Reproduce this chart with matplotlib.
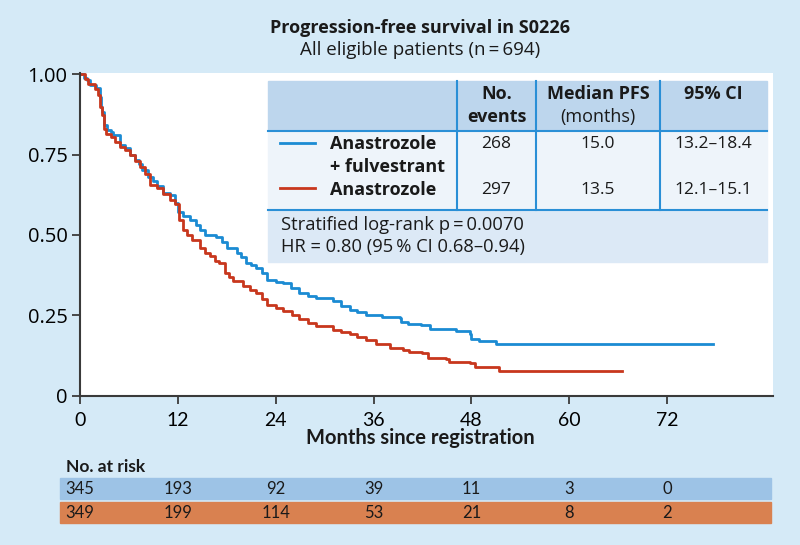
import matplotlib
matplotlib.use('Agg')
import matplotlib.pyplot as plt
from matplotlib.patches import Rectangle
from matplotlib.lines import Line2D
from matplotlib.transforms import blended_transform_factory

# Kaplan-Meier curves (months, survival)
combo_t = [0, 0.5, 0.8, 1.2, 2.0, 2.4, 2.6, 2.7, 2.9, 3.3, 3.8, 4.1, 4.9, 5.5, 6.1, 6.7, 7.2, 7.6,
           8.4, 8.9, 9.4, 10.2, 11.0, 11.6, 12.0, 12.6, 13.5, 14.2, 14.7, 15.3, 16.7, 17.4, 18.0,
           19.2, 19.8, 20.4, 21.0, 21.6, 22.3, 22.9, 24.1, 24.9, 25.9, 26.9, 28.0, 29.0, 31.0,
           32.0, 33.1, 34.0, 35.1, 37.1, 39.2, 39.4, 40.2, 41.8, 42.9, 46.1, 47.8, 48.0, 49.0,
           51.0, 77.6]
combo_s = [1.0, 0.99, 0.982, 0.967, 0.957, 0.931, 0.90, 0.884, 0.843, 0.828, 0.82, 0.812, 0.781,
           0.771, 0.750, 0.734, 0.72, 0.703, 0.682, 0.668, 0.651, 0.630, 0.624, 0.60, 0.573, 0.56,
           0.547, 0.53, 0.516, 0.50, 0.495, 0.478, 0.459, 0.443, 0.43, 0.412, 0.405, 0.397, 0.38,
           0.361, 0.353, 0.351, 0.335, 0.319, 0.31, 0.304, 0.293, 0.28, 0.267, 0.26, 0.252, 0.245,
           0.241, 0.228, 0.224, 0.221, 0.208, 0.200, 0.190, 0.176, 0.169, 0.159, 0.159]

anas_t = [0, 0.6, 1.0, 1.8, 2.2, 2.5, 2.7, 2.9, 3.2, 3.8, 4.3, 4.9, 5.5, 6.1, 6.7, 7.4, 8.0, 8.6,
          9.4, 10.2, 11.0, 11.6, 12.2, 12.6, 13.1, 13.7, 14.7, 15.3, 15.9, 16.5, 17.1, 17.8, 18.3,
          18.8, 20.0, 20.8, 21.6, 22.3, 22.9, 24.0, 24.9, 26.0, 26.9, 28.0, 29.0, 31.0, 32.0, 33.1,
          34.0, 35.1, 36.3, 38.0, 39.6, 40.4, 42.0, 42.7, 44.9, 45.3, 47.8, 48.4, 51.4, 66.5]
anas_s = [1.0, 0.985, 0.97, 0.955, 0.935, 0.90, 0.875, 0.83, 0.815, 0.805, 0.79, 0.775, 0.765,
          0.748, 0.73, 0.712, 0.69, 0.656, 0.645, 0.628, 0.609, 0.595, 0.547, 0.516, 0.50, 0.485,
          0.459, 0.445, 0.433, 0.42, 0.412, 0.382, 0.37, 0.356, 0.340, 0.330, 0.319, 0.30, 0.283,
          0.272, 0.262, 0.25, 0.237, 0.225, 0.216, 0.205, 0.198, 0.19, 0.182, 0.174, 0.159, 0.148,
          0.143, 0.134, 0.132, 0.117, 0.114, 0.104, 0.102, 0.088, 0.075, 0.075]

x_ticks = [0, 12, 24, 36, 48, 60, 72]
y_ticks = [0, 0.25, 0.5, 0.75, 1.0]
y_ticklabels = ['0', '0.25', '0.50', '0.75', '1.00']
risk_combo = [345, 193, 92, 39, 11, 3, 0]
risk_anas = [349, 199, 114, 53, 21, 8, 2]

BG = '#d5eaf7'
BLUE = '#1b8bd3'
RED = '#c8371d'
MAIN = ['Open Sans', 'DejaVu Sans']
NARROW = ['Lato', 'DejaVu Sans']
plt.rcParams['font.family'] = MAIN
plt.rcParams['text.color'] = '#1a1a1a'


def fx(px):
    return px / 800.0


def fy(py):
    return 1 - py / 545.0


fig = plt.figure(figsize=(8, 5.45), dpi=100, facecolor=BG)
ax = fig.add_axes([fx(80), fy(395.5), fx(773) - fx(80), fy(72.5) - fy(395.5)])
ax.set_facecolor('white')

ax.step(combo_t, combo_s, where='post', color=BLUE, lw=2)
ax.step(anas_t, anas_s, where='post', color=RED, lw=2)

ax.set_xlim(0, 85)
ax.set_ylim(0, 1.006)
for s in ['top', 'right']:
    ax.spines[s].set_visible(False)
for s in ['left', 'bottom']:
    ax.spines[s].set_color('#3a3a3a')
    ax.spines[s].set_linewidth(1.5)
ax.set_xticks(x_ticks)
ax.set_yticks(y_ticks)
ax.set_yticklabels(y_ticklabels)
ax.tick_params(axis='both', direction='out', length=6, width=1.3, color='#3a3a3a',
               labelsize=14.5, pad=3)
ax.tick_params(axis='x', pad=6)
for lab in ax.get_xticklabels():
    lab.set_family(NARROW)
    lab.set_fontsize(14)

# titles
fig.text(0.525, fy(28), 'Progression-free survival in S0226', ha='center', va='center',
         fontsize=13, fontweight='bold')
fig.text(0.525, fy(50), 'All eligible patients (n\u2009=\u2009694)', ha='center', va='center',
         fontsize=13.5)
fig.text(0.525, fy(438), 'Months since registration', ha='center', va='center',
         fontsize=14.5, fontweight='bold', family=NARROW)

# table over the plot
tl, tr = 268, 767
cols = [457, 536, 660]
fig.add_artist(Rectangle((fx(tl), fy(131)), fx(tr) - fx(tl), fy(81) - fy(131),
                         transform=fig.transFigure, color='#bdd6ed', zorder=2))
fig.add_artist(Rectangle((fx(tl), fy(210)), fx(tr) - fx(tl), fy(131) - fy(210),
                         transform=fig.transFigure, color='#eef4fa', zorder=2))
fig.add_artist(Rectangle((fx(tl), fy(262)), fx(tr) - fx(tl), fy(210) - fy(262),
                         transform=fig.transFigure, color='#dce9f6', zorder=2))
for yy in [131, 210]:
    fig.add_artist(Line2D([fx(tl), fx(tr)], [fy(yy), fy(yy)], transform=fig.transFigure,
                          color='#2a8fd6', lw=1.5, zorder=3))
for xx in cols:
    fig.add_artist(Line2D([fx(xx), fx(xx)], [fy(81), fy(210)], transform=fig.transFigure,
                          color='#2a8fd6', lw=1.5, zorder=3))

c1 = (457 + 536) / 2
c2 = (536 + 660) / 2
c3 = (660 + 767) / 2
hk = dict(ha='center', va='center', fontsize=13, zorder=4)
tk = dict(ha='center', va='center', fontsize=12.5, zorder=4)
fig.text(fx(c1), fy(94), 'No.', fontweight='bold', **hk)
fig.text(fx(c1), fy(117), 'events', fontweight='bold', **hk)
fig.text(fx(c2), fy(94), 'Median PFS', fontweight='bold', **hk)
fig.text(fx(c2), fy(117), '(months)', **hk)
fig.text(fx(c3), fy(94), '95% CI', fontweight='bold', **hk)

fig.add_artist(Line2D([fx(280), fx(315)], [fy(143), fy(143)], transform=fig.transFigure,
                      color=BLUE, lw=2, zorder=4))
fig.add_artist(Line2D([fx(280), fx(315)], [fy(188), fy(188)], transform=fig.transFigure,
                      color=RED, lw=2, zorder=4))
lk = dict(ha='left', va='center', fontsize=13, fontweight='bold', zorder=4)
fig.text(fx(330), fy(144), 'Anastrozole', **lk)
fig.text(fx(330), fy(167), '+ fulvestrant', **lk)
fig.text(fx(330), fy(190), 'Anastrozole', **lk)
for yy, vals in [(144, ['268', '15.0', '13.2\u201318.4']), (190, ['297', '13.5', '12.1\u201315.1'])]:
    for cx, v in zip([c1, c2, c3], vals):
        fig.text(fx(cx), fy(yy), v, **tk)
fig.text(fx(281), fy(225), 'Stratified log-rank p\u2009=\u20090.0070', ha='left', va='center',
         fontsize=13.2, zorder=4)
fig.text(fx(281), fy(247), 'HR = 0.80 (95\u2009% CI 0.68\u20130.94)', ha='left', va='center',
         fontsize=13.2, zorder=4)

# number at risk
blend = blended_transform_factory(ax.transData, fig.transFigure)
fig.text(fx(66), fy(467), 'No. at risk', ha='left', va='center', fontsize=12.5,
         fontweight='bold', family=NARROW)
x0 = -80 / 98 * 12 + 60 / 98 * 12
x1 = (772 - 80) / 98 * 12
fig.add_artist(Rectangle((x0, fy(499)), x1 - x0, fy(478) - fy(499), transform=blend,
                         color='#9dc3e6', zorder=1))
fig.add_artist(Rectangle((x0, fy(523)), x1 - x0, fy(502) - fy(523), transform=blend,
                         color='#d98150', zorder=1))
for t, a, b in zip(x_ticks, risk_combo, risk_anas):
    fig.text(t, fy(488.5), str(a), transform=blend, ha='center', va='center', fontsize=12,
             family=NARROW, zorder=3)
    fig.text(t, fy(512.5), str(b), transform=blend, ha='center', va='center', fontsize=12,
             family=NARROW, zorder=3)

fig.savefig('out.png', dpi=100, facecolor=BG)
